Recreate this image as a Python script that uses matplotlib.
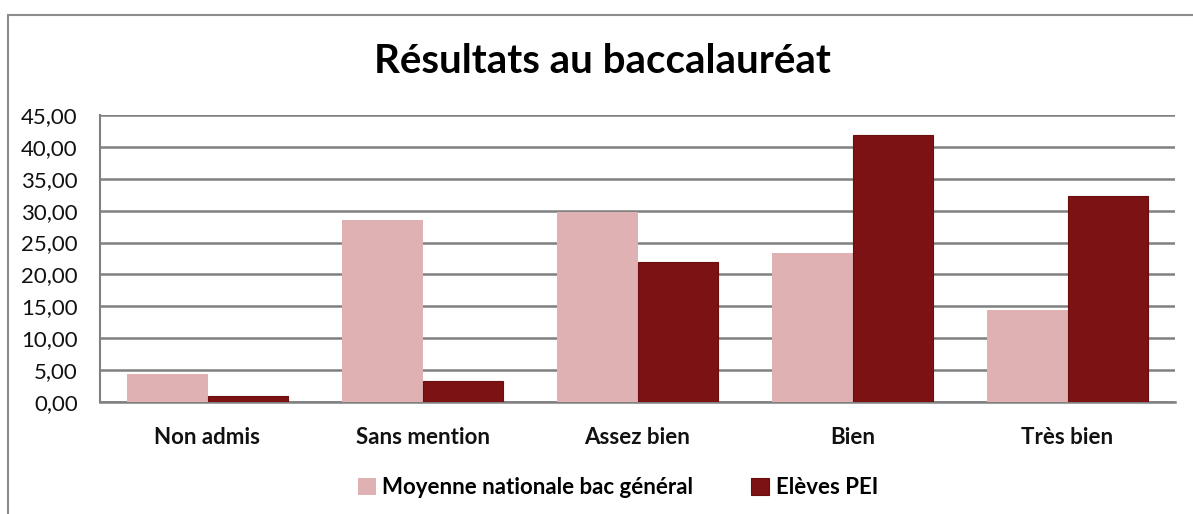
import matplotlib.pyplot as plt
import numpy as np
from matplotlib.patches import Rectangle

# données du graphique
categories = ["Non admis", "Sans mention", "Assez bien", "Bien", "Très bien"]
moyenne_nationale = [4.35, 28.5, 29.8, 23.4, 14.4]
eleves_pei = [0.9, 3.25, 21.9, 41.9, 32.3]
y_ticks = [0, 5, 10, 15, 20, 25, 30, 35, 40, 45]

pink = "#e0b1b2"
dark = "#7c1214"
grid_col = "#808080"

plt.rcParams["font.family"] = ["Lato", "DejaVu Sans"]

fig = plt.figure(figsize=(11.93, 5.14), dpi=100)
ax = fig.add_axes([100 / 1193, 112 / 514, 1075 / 1193, 287 / 514])

# cadre extérieur
fig.patches.append(Rectangle((8 / 1193, -0.01), 1.0, (514 - 15) / 514 + 0.01,
                             transform=fig.transFigure, fill=False,
                             edgecolor="#8c8c8c", linewidth=1.5))

x = np.arange(len(categories))
w = 0.375
ax.bar(x - w / 2, moyenne_nationale, w, color=pink, label="Moyenne nationale bac général", zorder=3)
ax.bar(x + w / 2, eleves_pei, w, color=dark, edgecolor="#6a0e10", linewidth=0.8,
       label="Elèves PEI", zorder=3)

ax.set_xlim(-0.5, len(categories) - 0.5)
ax.set_ylim(0, 45)
ax.set_yticks(y_ticks)
ax.set_yticklabels([f"{v:.2f}".replace(".", ",") for v in y_ticks], fontsize=16)
ax.set_xticks(x)
ax.set_xticklabels(categories, fontsize=16, fontweight="bold")
ax.tick_params(axis="both", length=0, colors="#111111")
ax.tick_params(axis="x", pad=18)
ax.tick_params(axis="y", pad=16)

ax.grid(axis="y", color=grid_col, linewidth=1.8, zorder=0)
for s in ["top", "right"]:
    ax.spines[s].set_visible(False)
ax.spines["left"].set_color(grid_col)
ax.spines["left"].set_linewidth(1.5)
ax.spines["bottom"].set_color(grid_col)
ax.spines["bottom"].set_linewidth(1.8)

fig.text(0.505, 0.88, "Résultats au baccalauréat", ha="center", va="center",
         fontsize=29, fontweight="bold")

fig.legend(loc="center", bbox_to_anchor=(0.518, 0.052), ncol=2, frameon=False,
           prop={"weight": "bold", "size": 16}, handlelength=0.8,
           handleheight=0.8, handletextpad=0.3, columnspacing=2.6)

fig.savefig("out.png", dpi=100)
